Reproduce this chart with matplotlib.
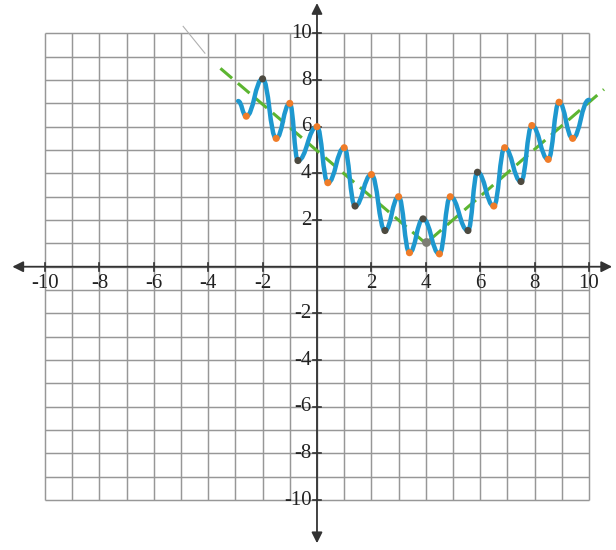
import matplotlib.pyplot as plt
from matplotlib.path import Path
from matplotlib.patches import PathPatch

# extrema of the wavy curve, left to right
wave_x = [-2.9, -2.6, -2.0, -1.5, -1.0, -0.7, 0.0, 0.4, 1.0, 1.4, 2.0, 2.5, 3.0, 3.4,
          3.9, 4.5, 4.9, 5.55, 5.9, 6.5, 6.9, 7.5, 7.9, 8.5, 8.9, 9.4, 10.0]
wave_y = [7.1, 6.45, 8.05, 5.5, 7.0, 4.55, 6.0, 3.6, 5.1, 2.6, 3.95, 1.55, 3.0, 0.6,
          2.05, 0.55, 3.0, 1.55, 4.05, 2.6, 5.1, 3.65, 6.05, 4.6, 7.05, 5.5, 7.15]

# plotted points (every extremum except the two ends)
dot_x = wave_x[1:-1]
dot_y = wave_y[1:-1]
dark_dots = [-2.0, -0.7, 1.4, 2.5, 3.9, 5.55, 5.9, 7.5]

# dashed trend line and its vertex
trend_x = [-3.55, 4.0, 10.55]
trend_y = [8.5, 1.0, 7.6]
vertex_x = [4.0]
vertex_y = [1.05]

# stray pencil stroke near the top of the grid
stray_x = [-4.92, -4.12]
stray_y = [10.3, 9.15]

ticks = [-10, -8, -6, -4, -2, 2, 4, 6, 8, 10]
grid_vals = list(range(-10, 11))

fig = plt.figure(figsize=(6.16, 5.5), dpi=100)
ax = fig.add_axes([0, 0, 1, 1])
ax.set_xlim(-11.654, 10.993)
ax.set_ylim(-12.14, 11.43)
ax.axis('off')

# graph paper
ax.vlines(grid_vals, -10, 10, color='#979797', lw=1.05, zorder=1)
ax.hlines(grid_vals, -10, 10, color='#979797', lw=1.05, zorder=1)
ax.plot(stray_x, stray_y, color='#b0b0b0', lw=0.8, zorder=1)

# axes with arrow heads
arrow = dict(arrowstyle='<|-|>', color='#333333', lw=1.3, mutation_scale=16,
             shrinkA=0, shrinkB=0)
ax.annotate('', xy=(10.85, 0), xytext=(-11.2, 0), arrowprops=arrow, zorder=2)
ax.annotate('', xy=(0, 11.3), xytext=(0, -11.85), arrowprops=arrow, zorder=2)

font = dict(family='Liberation Serif', fontsize=15, color='#222222')
for t in ticks:
    ax.plot([t, t], [-0.18, 0.18], color='#333333', lw=1.2, zorder=2)
    ax.plot([-0.15, 0.15], [t, t], color='#333333', lw=1.2, zorder=2)
    ax.text(t, -0.7, str(t), ha='center', va='center', **font)
    ax.text(-0.2, t, str(t), ha='right', va='center', **font)

# green dashed V
ax.plot(trend_x, trend_y, color='#5cb531', lw=2.2, dashes=(5, 2.5), zorder=3)

# smooth wave: cubic segments with flat tangents at each extremum
verts = [(wave_x[0], wave_y[0])]
codes = [Path.MOVETO]
for i in range(len(wave_x) - 1):
    x0, y0 = wave_x[i], wave_y[i]
    x1, y1 = wave_x[i + 1], wave_y[i + 1]
    dx = x1 - x0
    verts += [(x0 + 0.45 * dx, y0), (x1 - 0.45 * dx, y1), (x1, y1)]
    codes += [Path.CURVE4] * 3
ax.add_patch(PathPatch(Path(verts, codes), facecolor='none', edgecolor='#1e98cf',
                       lw=3.2, capstyle='round', joinstyle='round', zorder=4))

colors = ['#4d4a40' if x in dark_dots else '#f07c28' for x in dot_x]
ax.scatter(dot_x, dot_y, s=26, c=colors, zorder=5, linewidths=0)
ax.scatter(vertex_x, vertex_y, s=40, c='#7d7d75', zorder=5, linewidths=0)

fig.savefig('out.png', dpi=100, facecolor='white')
